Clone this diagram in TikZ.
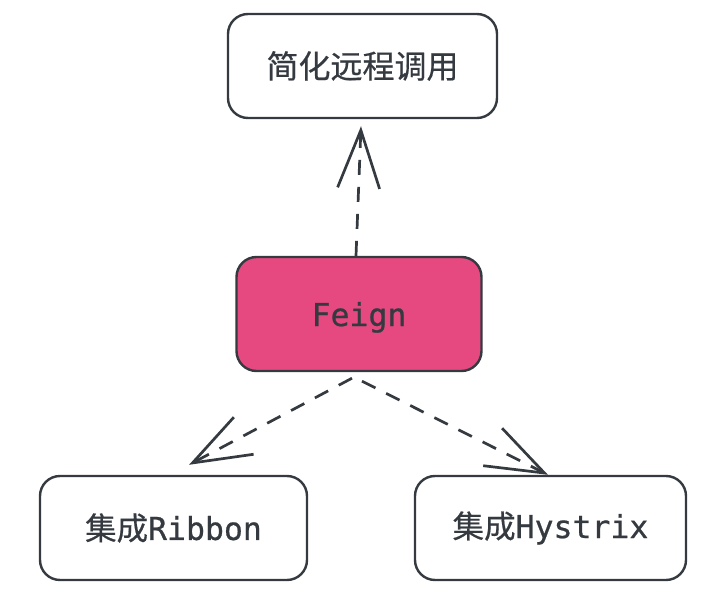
\documentclass[tikz,border=0pt]{standalone}
\usepackage{fontspec}
\setmonofont[FakeBold=0.7]{DejaVu Sans Mono}
\newfontfamily\cjk[FakeBold=0.5]{Noto Sans CJK SC}
\usetikzlibrary{arrows.meta}
\definecolor{ink}{HTML}{343A40}
\definecolor{pinkfill}{HTML}{E64980}
\begin{document}
\begin{tikzpicture}[x=1pt,y=-1pt,
  box/.style={draw=ink, line width=2.4pt, rounded corners=20pt, text=ink, inner sep=0pt,
    font=\fontsize{31.5}{36}\selectfont},
  link/.style={draw=ink, line width=2.7pt, dash pattern=on 15pt off 12pt,
    -{Straight Barb[length=58pt,width=42pt,line width=2.7pt]}}]
\useasboundingbox (0,0) rectangle (720,596);
\node[box, minimum width=269pt, minimum height=104pt] (top) at (362.5,66) {\cjk\fontsize{32}{36}\selectfont 简化远程调用};
\node[box, fill=pinkfill, minimum width=245pt, minimum height=114pt] (feign) at (359,314) {\raisebox{-12pt}[0pt][0pt]{\ttfamily Feign}};
\node[box, minimum width=267pt, minimum height=104pt] (ribbon) at (173.5,528) {{\cjk 集成}{\ttfamily Ribbon}};
\node[box, minimum width=271pt, minimum height=104pt] (hystrix) at (550.5,528) {{\cjk 集成}{\ttfamily Hystrix}};
\draw[link] ([shift={(-3,0)}]feign.north) -- ([shift={(-1.5,7)}]top.south);
\draw[link] ([shift={(-7,6)}]feign.south) -- ([shift={(15.5,-10)}]ribbon.north);
\draw[link] ([shift={(3,9)}]feign.south) -- ([shift={(-2.5,0)}]hystrix.north);
\end{tikzpicture}
\end{document}
